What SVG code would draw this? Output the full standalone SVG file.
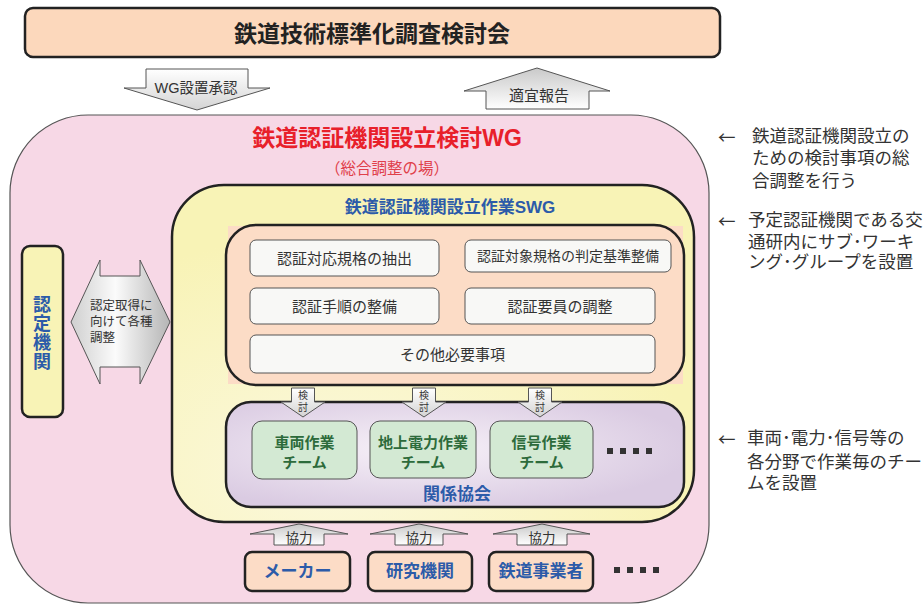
<svg xmlns="http://www.w3.org/2000/svg" width="924" height="604" viewBox="0 0 924 604">
<defs>
  <linearGradient id="silverV" x1="0" y1="0" x2="0" y2="1">
    <stop offset="0" stop-color="#c9c9c9"/>
    <stop offset="1" stop-color="#ffffff"/>
  </linearGradient>
  <linearGradient id="silverV2" x1="0" y1="0" x2="0" y2="1">
    <stop offset="0" stop-color="#ffffff"/>
    <stop offset="1" stop-color="#d4d4d4"/>
  </linearGradient>
  <linearGradient id="silverH" x1="0" y1="0" x2="1" y2="0">
    <stop offset="0" stop-color="#cfcfcf"/>
    <stop offset="0.45" stop-color="#fbfbfb"/>
    <stop offset="1" stop-color="#b5b5b5"/>
  </linearGradient>
  <radialGradient id="lav" cx="0.42" cy="0.45" r="0.6">
    <stop offset="0" stop-color="#f7f1f8"/>
    <stop offset="1" stop-color="#dacbe2"/>
  </radialGradient>
  <radialGradient id="yel" cx="0.3" cy="0.85" r="0.7">
    <stop offset="0" stop-color="#fbf8dc"/>
    <stop offset="1" stop-color="#f8f3b6"/>
  </radialGradient>
</defs>
<style>
  text { font-family: "Liberation Sans", "Noto Sans CJK JP", sans-serif; dominant-baseline: central; text-anchor: middle; }
  .thick { stroke: #222; stroke-width: 2.5; }
  .thin { stroke: #555; stroke-width: 1; }
  .arrow { fill: url(#silverV); stroke: #555; stroke-width: 1; }
  .arrowd { fill: url(#silverV2); stroke: #555; stroke-width: 1; }
  .dark { fill: #333; }
  .left { text-anchor: start; }
  .blue { fill: #2c5ba9; font-weight: bold; }
  .green { fill: #2d6b3b; font-weight: bold; font-size: 15px; }
  .item { fill: #333; font-size: 15px; }
  .ann { fill: #333; font-size: 17.5px; text-anchor: start; }
  .larr { font-family: "Noto Sans CJK JP", sans-serif; }
  .dot { fill: #333; }
</style>

<g id="top">
  <rect x="25" y="8" width="695" height="49" rx="8" fill="#fcd8bc" class="thick"/>
  <text x="372" y="34" font-size="23" font-weight="bold" fill="#222">鉄道技術標準化調査検討会</text>
</g>

<g id="wg">
  <rect x="10" y="115" width="699" height="488" rx="78" fill="#f7d8e6" stroke="#555" stroke-width="1.2"/>
  <text x="387" y="138" font-size="23" font-weight="bold" fill="#e8202a">鉄道認証機関設立検討WG</text>
  <text x="387" y="168" font-size="15.5" fill="#e0404a">（総合調整の場）</text>
</g>

<g id="swg">
  <rect x="172" y="185" width="522" height="337" rx="52" fill="url(#yel)" class="thick"/>
  <text x="450" y="207" font-size="17" class="blue">鉄道認証機関設立作業SWG</text>
</g>

<g id="tasks">
  <rect x="228" y="226" width="455" height="158" fill="#fcdcc6"/>
  <rect x="226" y="225" width="458" height="160" rx="30" fill="#fcdcc6" class="thick"/>
</g>

<g id="task1">
  <rect x="250" y="240" width="189" height="36" rx="6" fill="#f8f8f6" class="thin"/>
  <text x="344.5" y="258" class="item">認証対応規格の抽出</text>
</g>
<g id="task2">
  <rect x="465" y="240" width="206" height="32" rx="6" fill="#f8f8f6" class="thin"/>
  <text x="568" y="256" class="item" style="font-size:14px">認証対象規格の判定基準整備</text>
</g>
<g id="task3">
  <rect x="250" y="288" width="189" height="36" rx="6" fill="#f8f8f6" class="thin"/>
  <text x="344.5" y="306" class="item">認証手順の整備</text>
</g>
<g id="task4">
  <rect x="465" y="288" width="190" height="36" rx="6" fill="#f8f8f6" class="thin"/>
  <text x="560" y="306" class="item">認証要員の調整</text>
</g>
<g id="task5">
  <rect x="250" y="335" width="405" height="38" rx="6" fill="#f8f8f6" class="thin"/>
  <text x="452.5" y="354" class="item">その他必要事項</text>
</g>

<g id="assoc">
  <rect x="226" y="402" width="458" height="105" rx="25" fill="url(#lav)" class="thick"/>
  <text x="457" y="494" font-size="17" class="blue">関係協会</text>
  <rect x="607" y="448" width="6" height="6" class="dot"/>
  <rect x="620" y="448" width="6" height="6" class="dot"/>
  <rect x="633" y="448" width="6" height="6" class="dot"/>
  <rect x="646" y="448" width="6" height="6" class="dot"/>
</g>

<g id="team1">
  <rect x="252" y="421" width="105" height="58" rx="10" fill="#d3e9d3" class="thin"/>
  <text x="304.5" y="442" class="green">車両作業</text>
  <text x="304.5" y="462" class="green">チーム</text>
</g>
<g id="team2">
  <rect x="370" y="421" width="106" height="57" rx="10" fill="#d3e9d3" class="thin"/>
  <text x="423" y="442" class="green">地上電力作業</text>
  <text x="423" y="462" class="green">チーム</text>
</g>
<g id="team3">
  <rect x="490" y="421" width="103" height="57" rx="10" fill="#d3e9d3" class="thin"/>
  <text x="541.5" y="442" class="green">信号作業</text>
  <text x="541.5" y="462" class="green">チーム</text>
</g>

<g id="cert">
  <rect x="22" y="246" width="41" height="171" rx="8" fill="#f8f3b6" class="thick"/>
  <text x="42" y="305" font-size="18" class="blue">認</text>
  <text x="42" y="324" font-size="18" class="blue">定</text>
  <text x="42" y="343" font-size="18" class="blue">機</text>
  <text x="42" y="362" font-size="18" class="blue">関</text>
</g>

<g id="makers">
  <rect x="245" y="552" width="105" height="39" rx="7" fill="#fcdcc6" class="thick"/>
  <text x="297.5" y="571" font-size="17" class="blue">メーカー</text>
</g>
<g id="research">
  <rect x="368" y="552" width="104" height="39" rx="7" fill="#fcdcc6" class="thick"/>
  <text x="420" y="571" font-size="17" class="blue">研究機関</text>
</g>
<g id="operators">
  <rect x="489" y="552" width="104" height="39" rx="7" fill="#fcdcc6" class="thick"/>
  <text x="541" y="571" font-size="17" class="blue">鉄道事業者</text>
</g>
<g id="more">
  <rect x="614" y="567" width="6" height="6" class="dot"/>
  <rect x="627" y="567" width="6" height="6" class="dot"/>
  <rect x="640" y="567" width="6" height="6" class="dot"/>
  <rect x="653" y="567" width="6" height="6" class="dot"/>
</g>

<g id="connectors">
  <polygon points="146,69 248,69 248,88 270,88 197,110 124,88 146,88" class="arrowd"/>
  <text x="196" y="88" font-size="14.5" class="dark">WG設置承認</text>

  <polygon points="537,68 610,91 589,91 589,109 486,109 486,91 464,91" class="arrow"/>
  <text x="539" y="95" font-size="15" class="dark">適宜報告</text>

  <polygon points="71,322 100,260 100,276 140,276 140,260 170,322 140,384 140,367 100,367 100,384" fill="url(#silverH)" stroke="#555" stroke-width="1"/>
  <text x="90" y="306" font-size="12.5" class="dark left">認定取得に</text>
  <text x="90" y="322" font-size="12.5" class="dark left">向けて各種</text>
  <text x="90" y="338" font-size="12.5" class="dark left">調整</text>

  <polygon points="291.5,388 314.5,388 314.5,402 325,402 303,417 281,402 291.5,402" class="arrowd"/>
  <text x="303" y="395" font-size="10" class="dark">検</text>
  <text x="303" y="407" font-size="10" class="dark">討</text>
  <polygon points="412.5,388 435.5,388 435.5,402 446,402 424,417 402,402 412.5,402" class="arrowd"/>
  <text x="424" y="395" font-size="10" class="dark">検</text>
  <text x="424" y="407" font-size="10" class="dark">討</text>
  <polygon points="528.5,388 551.5,388 551.5,402 562,402 540,417 518,402 528.5,402" class="arrowd"/>
  <text x="540" y="395" font-size="10" class="dark">検</text>
  <text x="540" y="407" font-size="10" class="dark">討</text>

  <polygon points="299,524 348,534 324,534 324,545 274,545 274,534 250,534" class="arrow"/>
  <text x="299" y="538" font-size="13.5" class="dark">協力</text>
  <polygon points="419,524 468,534 443,534 443,545 395,545 395,534 370,534" class="arrow"/>
  <text x="419" y="538" font-size="13.5" class="dark">協力</text>
  <polygon points="542,524 590,534 567,534 567,545 517,545 517,534 493,534" class="arrow"/>
  <text x="542" y="538" font-size="13.5" class="dark">協力</text>
</g>

<g id="notes">
  <text x="718" y="136" class="ann larr">←</text>
  <text x="752" y="136" class="ann">鉄道認証機関設立の</text>
  <text x="752" y="158" class="ann">ための検討事項の総</text>
  <text x="752" y="181" class="ann">合調整を行う</text>

  <text x="718" y="220" class="ann larr">←</text>
  <text x="748" y="220" class="ann">予定認証機関である交</text>
  <text x="748" y="242" class="ann">通研内にサブ･ワーキ</text>
  <text x="748" y="262" class="ann">ング･グループを設置</text>

  <text x="718" y="438" class="ann larr">←</text>
  <text x="747" y="438" class="ann">車両･電力･信号等の</text>
  <text x="747" y="462" class="ann">各分野で作業毎のチー</text>
  <text x="747" y="483" class="ann">ムを設置</text>
</g>
</svg>
